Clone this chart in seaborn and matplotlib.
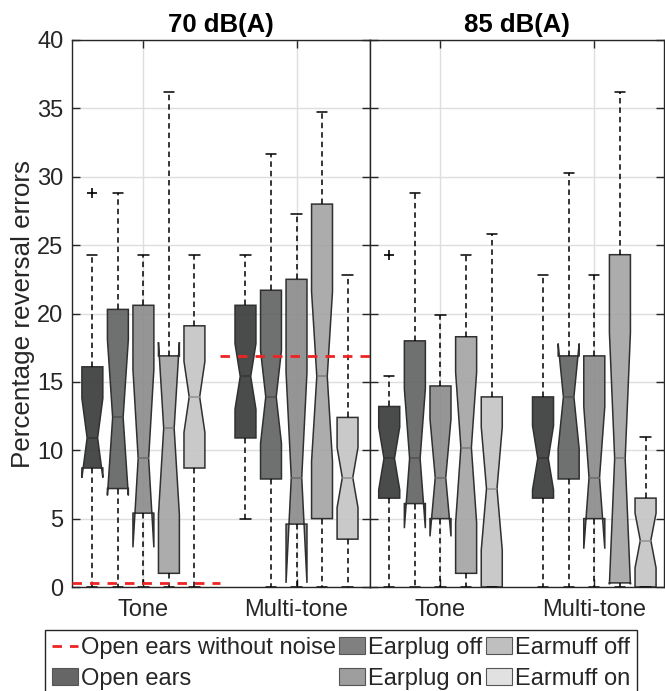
import numpy as np
import matplotlib
matplotlib.use("Agg")
import matplotlib.pyplot as plt
import seaborn as sns
from matplotlib.patches import Patch
from matplotlib.lines import Line2D

# ---------------- data ----------------
conditions = ["Open ears", "Earplug off", "Earplug on", "Earmuff off", "Earmuff on"]
stimuli = ["Tone", "Multi-tone"]
levels = ["70 dB(A)", "85 dB(A)"]

# order: Tone x 5 conditions, then Multi-tone x 5 conditions
med_70 = [10.9, 12.4, 9.4, 11.6, 13.9, 15.4, 13.9, 8.0, 15.4, 8.0]
q1_70 = [8.7, 7.2, 5.4, 1.0, 8.7, 10.9, 7.9, 4.6, 5.0, 3.5]
q3_70 = [16.1, 20.3, 20.6, 16.9, 19.1, 20.6, 21.7, 22.5, 28.0, 12.4]
wlo_70 = [0.0, 0.0, 0.0, 0.0, 0.0, 5.0, 0.0, 0.0, 0.0, 0.0]
whi_70 = [24.3, 28.8, 24.3, 36.2, 24.3, 24.3, 31.7, 27.3, 34.7, 22.8]
cilo_70 = [8.0, 6.7, 2.9, 5.3, 11.3, 13.0, 10.5, 0.3, 9.2, 5.8]
cihi_70 = [13.8, 18.1, 15.9, 17.9, 16.5, 17.8, 17.3, 15.7, 21.6, 10.2]
out_70 = [[28.8], [], [], [], [], [], [], [], [], []]

med_85 = [9.4, 9.4, 8.0, 10.2, 7.2, 9.4, 13.9, 8.0, 9.4, 3.4]
q1_85 = [6.5, 6.1, 5.0, 1.0, 0.0, 6.5, 7.9, 5.0, 0.3, 0.0]
q3_85 = [13.2, 18.0, 14.7, 18.3, 13.9, 13.9, 16.9, 16.9, 24.3, 6.5]
wlo_85 = [0.0] * 10
whi_85 = [15.4, 28.8, 19.9, 24.3, 25.8, 22.8, 30.3, 22.8, 36.2, 11.0]
cilo_85 = [7.1, 4.3, 3.7, 4.7, 2.7, 7.1, 10.1, 2.8, 0.2, 1.4]
cihi_85 = [11.7, 14.5, 12.3, 15.7, 11.7, 11.8, 17.8, 13.2, 18.6, 5.4]
out_85 = [[24.3], [], [], [], [], [], [], [], [], []]

# open ears without noise reference (70 dB panel), per stimulus group
ref_70 = [0.3, 16.9]

y_ticks = [0, 5, 10, 15, 20, 25, 30, 35, 40]

# ---------------- style ----------------
box_colors = ["#4a4c4b", "#6f7170", "#959695", "#acacac", "#cacaca"]
legend_colors = ["#666666", "#808080", "#9e9e9e", "#bfbfbf", "#e1e1e1"]
axis_col = "#262626"

sns.set_style("white")
plt.rcParams["font.family"] = ["Liberation Sans", "DejaVu Sans"]
plt.rcParams["axes.edgecolor"] = axis_col

W, H = 665, 691
fig = plt.figure(figsize=(W / 100, H / 100), dpi=100)

def px_axes(x0, x1, y0, y1):
    return fig.add_axes([x0 / W, 1 - y1 / H, (x1 - x0) / W, (y1 - y0) / H])

ax1 = px_axes(71.7, 370, 40, 587)
ax2 = px_axes(370, 663.5, 40, 587)

positions = [1, 2, 3, 4, 5, 7, 8, 9, 10, 11]
alpha = 0.9

def fill_for(target):
    rgb = np.array(matplotlib.colors.to_rgb(target))
    c = (rgb - (1 - alpha)) / alpha
    return tuple(np.clip(c, 0, 1))

def draw_panel(ax, med, q1, q3, wlo, whi, cilo, cihi, outs, title, xlim):
    stats = []
    for i in range(len(med)):
        stats.append(dict(med=med[i], q1=q1[i], q3=q3[i], whislo=wlo[i],
                          whishi=whi[i], cilo=cilo[i], cihi=cihi[i],
                          fliers=np.array(outs[i], dtype=float)))
    res = ax.bxp(stats, positions=positions, widths=0.82, capwidths=0.4,
                 shownotches=True, patch_artist=True, showfliers=True,
                 manage_ticks=False,
                 boxprops=dict(edgecolor="#303030", linewidth=1.1),
                 whiskerprops=dict(color="black", linestyle=(0, (3.6, 2.6)), linewidth=1.1),
                 capprops=dict(color="black", linewidth=1.1),
                 medianprops=dict(linewidth=1.1),
                 flierprops=dict(marker="+", markeredgecolor="black",
                                 markersize=7, markeredgewidth=1.2, linestyle="none"))
    for i, b in enumerate(res["boxes"]):
        tgt = box_colors[i % 5]
        b.set_facecolor(fill_for(tgt) + (alpha,))
        b.set_zorder(2)
    for i, m in enumerate(res["medians"]):
        rgb = np.array(matplotlib.colors.to_rgb(box_colors[i % 5]))
        m.set_color(tuple(rgb * 0.72))
        m.set_zorder(3)
    ax.set_xlim(*xlim)
    ax.set_ylim(0, 40)
    ax.set_yticks(y_ticks)
    ax.set_xticks([3, 9])
    ax.set_xticklabels(stimuli)
    ax.grid(True, color="#dedede", linewidth=1.0)
    ax.set_axisbelow(True)
    ax.tick_params(axis="both", which="both", direction="in", length=6, width=1,
                   color=axis_col, labelcolor=axis_col, labelsize=17,
                   top=True, right=True, left=True, bottom=True, pad=6)
    ax.tick_params(axis="x", pad=9)
    for s in ax.spines.values():
        s.set_visible(True)
        s.set_color(axis_col)
        s.set_linewidth(1.0)
    ax.set_title(title, fontsize=18.5, fontweight="bold", pad=6, color="black")

draw_panel(ax1, med_70, q1_70, q3_70, wlo_70, whi_70, cilo_70, cihi_70, out_70,
           levels[0], (0.19, 11.88))
draw_panel(ax2, med_85, q1_85, q3_85, wlo_85, whi_85, cilo_85, cihi_85, out_85,
           levels[1], (0.25, 11.7))
ax2.tick_params(labelleft=False)

# reference lines (open ears without noise) in the 70 dB panel
red = "#ee2424"
red_style = dict(color=red, linewidth=2.0, linestyle=(0, (3.4, 2.9)), zorder=5)
xl = ax1.get_xlim()
group_edges = [(xl[0], 6.0), (6.0, xl[1])]
for (a, b), v in zip(group_edges, ref_70):
    ax1.plot([a, b], [v, v], **red_style)
ax1.set_xlim(*xl)

ax1.set_ylabel("Percentage reversal errors", fontsize=18.7, color=axis_col)
ax1.yaxis.set_label_coords(-0.122, 0.5)

# legend
handles = [Line2D([0], [0], **{k: v for k, v in red_style.items() if k != "zorder"})]
labels = ["Open ears without noise"]
for c, lab in zip(legend_colors, conditions):
    handles.append(Patch(facecolor=c, edgecolor="#555555", linewidth=0.8))
    labels.append(lab)

leg = fig.legend(handles, labels, ncol=3, loc="upper left",
                 bbox_to_anchor=(45 / W, 1 - 630 / H), bbox_transform=fig.transFigure,
                 frameon=True, fancybox=False, shadow=False, fontsize=17,
                 handlelength=1.1, handleheight=0.75, handletextpad=0.12,
                 columnspacing=0.15, labelspacing=0.38, borderpad=0.3,
                 borderaxespad=0.0)
leg.get_frame().set_edgecolor(axis_col)
leg.get_frame().set_linewidth(1.0)
leg.get_frame().set_facecolor("white")
leg.get_frame().set_alpha(1)

fig.savefig("out.png", dpi=100)
